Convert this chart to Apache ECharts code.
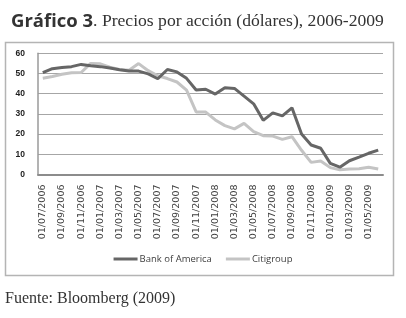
<!DOCTYPE html>
<html>
<head>
<meta charset="utf-8">
<script src="https://cdn.jsdelivr.net/npm/echarts@6/dist/echarts.min.js"></script>
<style>
html,body{margin:0;padding:0;background:#fff;}
#c{width:406px;height:318px;}
</style>
</head>
<body>
<div id="c"></div>
<script>
var months = ['01/07/2006','01/08/2006','01/09/2006','01/10/2006','01/11/2006','01/12/2006',
  '01/01/2007','01/02/2007','01/03/2007','01/04/2007','01/05/2007','01/06/2007',
  '01/07/2007','01/08/2007','01/09/2007','01/10/2007','01/11/2007','01/12/2007',
  '01/01/2008','01/02/2008','01/03/2008','01/04/2008','01/05/2008','01/06/2008',
  '01/07/2008','01/08/2008','01/09/2008','01/10/2008','01/11/2008','01/12/2008',
  '01/01/2009','01/02/2009','01/03/2009','01/04/2009','01/05/2009','01/06/2009'];
var bankOfAmerica = [50.4, 52.4, 53, 53.4, 54.5, 53.8, 53.4, 52.7, 51.9, 51.2, 51.2, 49.8,
  47.4, 52, 50.8, 47.6, 41.8, 42.2, 39.8, 43, 42.6, 38.8, 35, 26.8,
  30.5, 29, 33, 20, 14.6, 13, 5.5, 3.6, 6.8, 8.6, 10.5, 12.1];
var citigroup = [47.7, 48.5, 49.6, 50.4, 50.5, 55, 54.8, 53.1, 52, 51.6, 54.9, 51.4,
  48.9, 47.5, 45.8, 41.8, 31, 30.9, 27, 24.2, 22.6, 25.3, 21.2, 19.2,
  19, 17.4, 18.7, 12, 6, 6.7, 3.4, 2.3, 2.7, 2.9, 3.6, 2.7];
var seriesNames = ['Bank of America', 'Citigroup'];
var titleBold = 'Gráfico 3';
var titleRest = '. Precios por acción (dólares), 2006-2009';
var sourceText = 'Fuente: Bloomberg (2009)';

var chart = echarts.init(document.getElementById('c'), null, {renderer:'canvas'});
chart.setOption({
  animation: false,
  backgroundColor: '#fff',
  title: {
    left: 6, top: 7,
    text: '{b|' + titleBold + '}{r|' + titleRest + '}',
    textStyle: {
      rich: {
        b: {fontFamily: 'Open Sans', fontWeight: 'bold', fontSize: 18.5, color: '#333'},
        r: {fontFamily: 'Liberation Serif', fontWeight: 'normal', fontSize: 17.6, color: '#333'}
      }
    }
  },
  graphic: [
    {type: 'rect', shape: {x: 5.5, y: 42.5, width: 388, height: 233},
     style: {fill: 'none', stroke: '#b4b4b4', lineWidth: 1.5}, z: -1},
    {type: 'text', left: 5, top: 291,
     style: {text: sourceText, font: '16px "Liberation Serif"', fill: '#333'}}
  ],
  grid: {left: 38, right: 23, top: 53.3, bottom: 143.5, containLabel: false},
  legend: {
    data: seriesNames,
    bottom: 49, left: 'center',
    icon: 'rect', itemWidth: 24, itemHeight: 3, itemGap: 14,
    textStyle: {fontFamily: 'Open Sans', fontSize: 9.5, color: '#404040', padding: [0,0,0,-3]}
  },
  xAxis: {
    type: 'category', data: months, boundaryGap: true,
    axisLine: {lineStyle: {color: '#8c8c8c', width: 2}},
    axisTick: {show: false},
    axisLabel: {interval: 1, rotate: 90, margin: 10, fontFamily: 'DejaVu Sans', fontSize: 9.5, color: '#404040'}
  },
  yAxis: {
    type: 'value', min: 0, max: 60, interval: 10,
    axisLine: {show: true, lineStyle: {color: '#9a9a9a', width: 1.5}},
    axisTick: {show: false},
    axisLabel: {margin: 13, fontFamily: 'Liberation Sans', fontWeight: 'bold', fontSize: 8.5, color: '#222'},
    splitLine: {lineStyle: {color: '#a6a6a6', width: 1}}
  },
  series: [
    {name: seriesNames[0], type: 'line', data: bankOfAmerica, showSymbol: false, symbol: 'none',
     lineStyle: {color: '#666666', width: 3}, itemStyle: {color: '#666666'}},
    {name: seriesNames[1], type: 'line', data: citigroup, showSymbol: false, symbol: 'none',
     lineStyle: {color: '#c4c4c4', width: 3}, itemStyle: {color: '#c4c4c4'}, z: 1}
  ]
});
</script>
</body>
</html>
